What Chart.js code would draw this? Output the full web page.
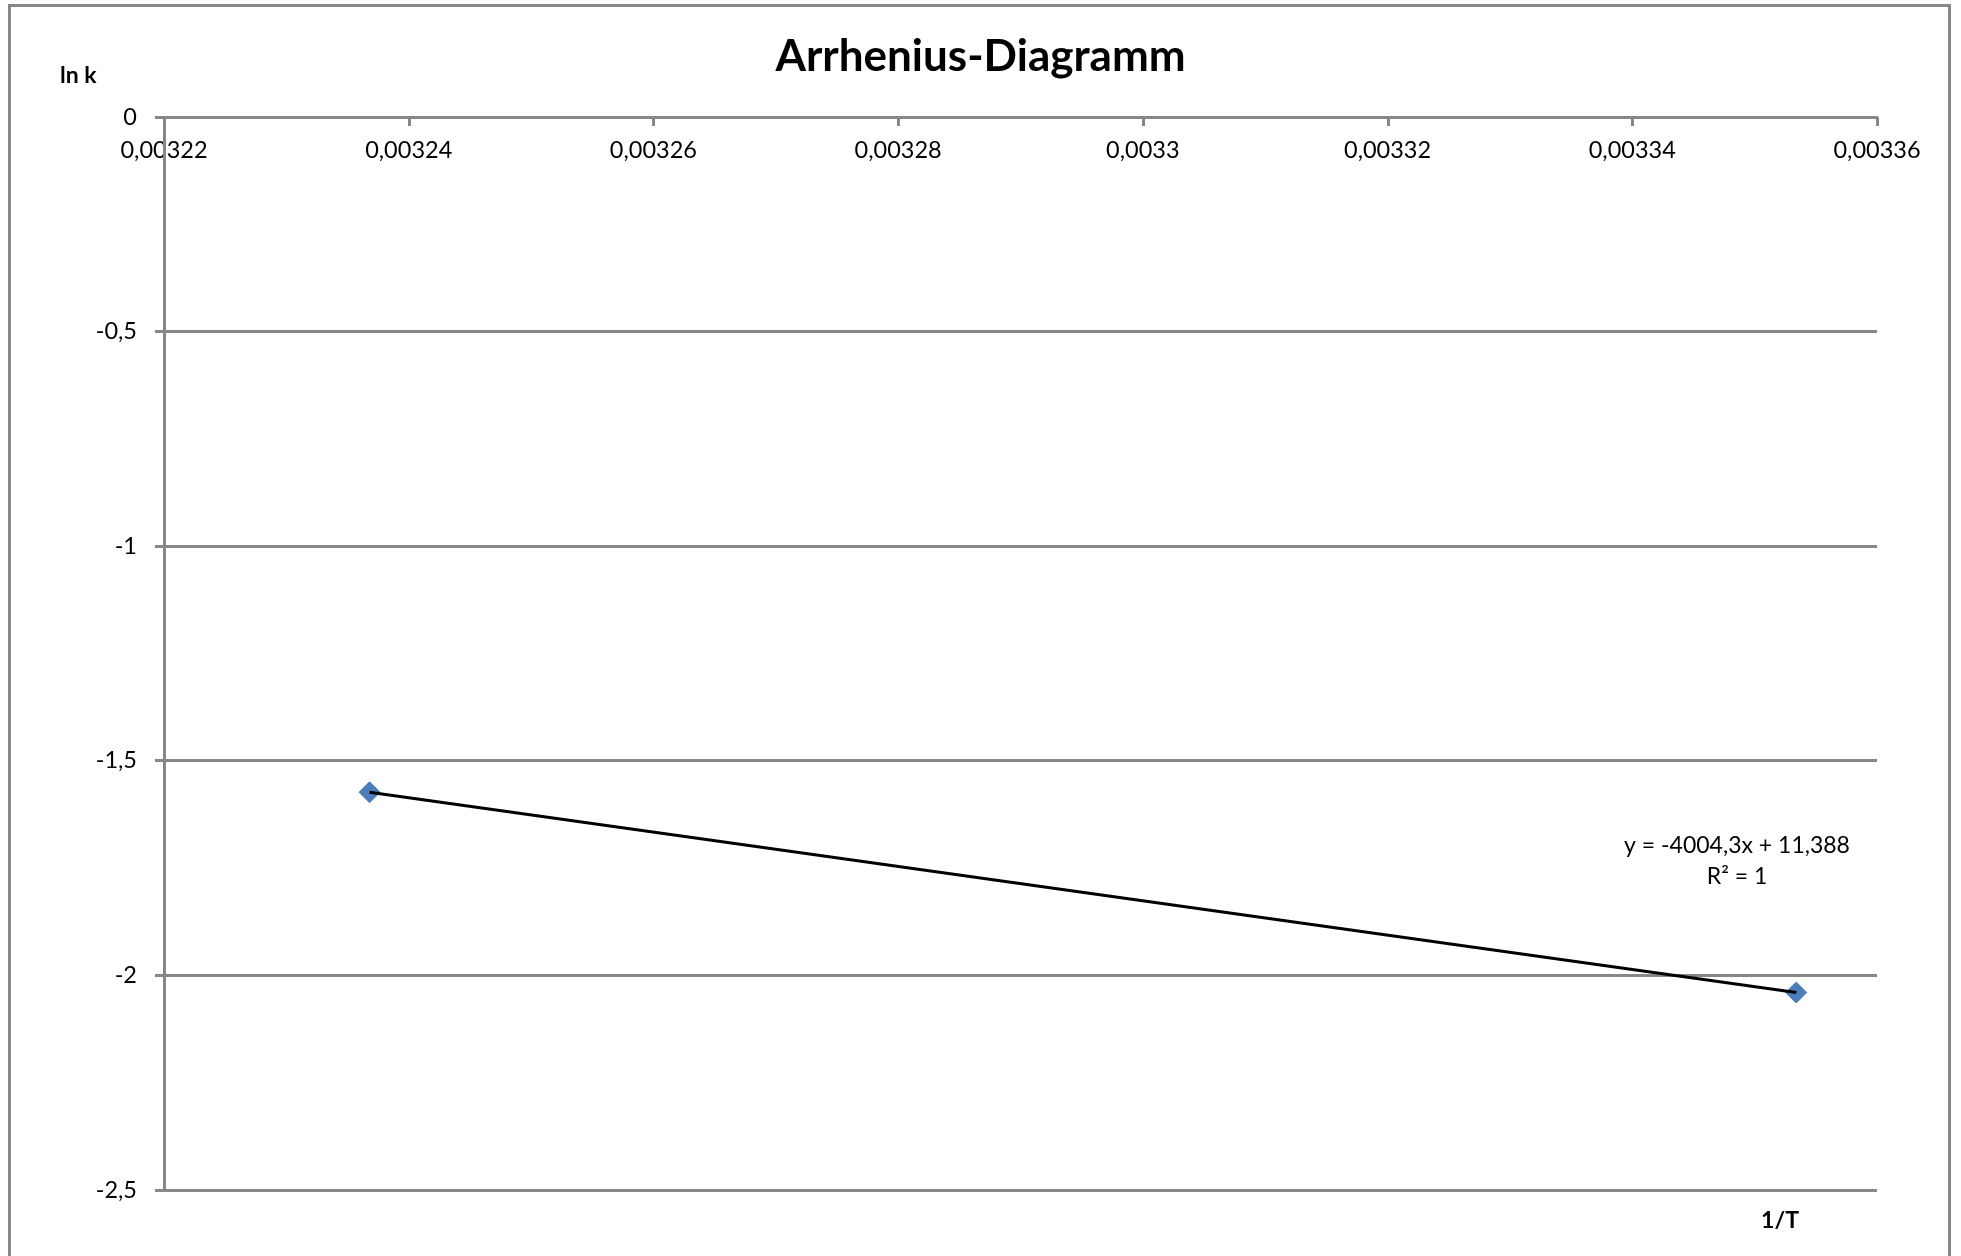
<!DOCTYPE html>
<html>
<head>
<meta charset="utf-8">
<title>Arrhenius-Diagramm</title>
<script src="https://cdn.jsdelivr.net/npm/chart.js@4/dist/chart.umd.min.js"></script>
<style>
  html, body { margin: 0; padding: 0; background: #ffffff; }
  #wrap { width: 1961px; height: 1256px; position: relative; }
</style>
</head>
<body>
<div id="wrap"><canvas id="arrhenius" width="1961" height="1256"></canvas></div>
<script>
// Measured points: reciprocal temperature (1/K) and natural log of the rate constant
const inverseTemperature = [0.0032368, 0.0033534];
const lnK = [-1.5733, -2.0400];

// Linear trendline as printed next to it
const trendSlope = -4004.3;
const trendIntercept = 11.388;
const equationLines = ['y = -4004,3x + 11,388', 'R² = 1'];

// Axis ticks and their German-formatted labels
const xTickValues = [0.00322, 0.00324, 0.00326, 0.00328, 0.0033, 0.00332, 0.00334, 0.00336];
const xTickLabels = ['0,00322', '0,00324', '0,00326', '0,00328', '0,0033', '0,00332', '0,00334', '0,00336'];
const yTickValues = [0, -0.5, -1, -1.5, -2, -2.5];
const yTickLabels = ['0', '-0,5', '-1', '-1,5', '-2', '-2,5'];

const chartTitle = 'Arrhenius-Diagramm';
const yAxisTitle = 'ln k';
const xAxisTitle = '1/T';

const FONT = 'Lato, "Open Sans", "Noto Sans", sans-serif';
const GRID_GRAY = '#878787';

// Trendline spans the range of the measured x values
const trendX = [Math.min(...inverseTemperature), Math.max(...inverseTemperature)];
const trendPoints = trendX.map(x => ({ x: x, y: trendSlope * x + trendIntercept }));
const measuredPoints = inverseTemperature.map((x, i) => ({ x: x, y: lnK[i] }));

// Frame, axis tick marks below the top axis, and free text
const decorations = {
  id: 'decorations',
  beforeDraw(chart) {
    const ctx = chart.ctx;
    ctx.save();
    ctx.fillStyle = '#ffffff';
    ctx.fillRect(0, 0, chart.width, chart.height);
    ctx.strokeStyle = GRID_GRAY;
    ctx.lineWidth = 3;
    ctx.strokeRect(9.5, 5.5, 1940, 1300);
    ctx.restore();
  },
  beforeDatasetsDraw(chart) {
    const ctx = chart.ctx;
    const xs = chart.scales.x, ys = chart.scales.y;
    const axisY = ys.getPixelForValue(0);
    ctx.save();
    ctx.strokeStyle = GRID_GRAY;
    ctx.lineWidth = 3;
    xTickValues.forEach(v => {
      const px = Math.round(xs.getPixelForValue(v)) + 0.5;
      ctx.beginPath();
      ctx.moveTo(px, axisY);
      ctx.lineTo(px, axisY + 9);
      ctx.stroke();
    });
    ctx.restore();
  },
  afterDraw(chart) {
    const ctx = chart.ctx;
    const area = chart.chartArea;
    ctx.save();
    ctx.fillStyle = '#000000';
    ctx.textBaseline = 'middle';

    ctx.textAlign = 'center';
    ctx.font = 'bold 44px ' + FONT;
    ctx.fillText(chartTitle, chart.width / 2, 57);

    ctx.font = 'bold 23px ' + FONT;
    ctx.textAlign = 'left';
    ctx.fillText(yAxisTitle, 60, 76);
    ctx.textAlign = 'center';
    ctx.fillText(xAxisTitle, area.right - 97, area.bottom + 31);

    ctx.font = '23px ' + FONT;
    ctx.fillText(equationLines[0], area.right - 140, 846);
    ctx.fillText(equationLines[1], area.right - 140, 877);
    ctx.restore();
  }
};

new Chart(document.getElementById('arrhenius'), {
  type: 'scatter',
  data: {
    datasets: [
      {
        label: 'Linear (ln k)',
        data: trendPoints,
        showLine: true,
        borderColor: '#000000',
        borderWidth: 3,
        pointRadius: 0,
        fill: false,
        order: 0
      },
      {
        label: 'ln k',
        data: measuredPoints,
        pointStyle: 'rectRot',
        pointRadius: 10.5,
        backgroundColor: '#4A7EBB',
        borderColor: '#4A7EBB',
        borderWidth: 1,
        showLine: false,
        order: 1
      }
    ]
  },
  options: {
    responsive: false,
    animation: false,
    layout: { padding: { left: 34, top: 117, right: 84, bottom: 66 } },
    plugins: {
      legend: { display: false },
      title: { display: false },
      tooltip: { enabled: false }
    },
    scales: {
      x: {
        type: 'linear',
        position: { y: 0 },
        min: xTickValues[0],
        max: xTickValues[xTickValues.length - 1],
        afterBuildTicks(scale) { scale.ticks = xTickValues.map(v => ({ value: v })); },
        ticks: {
          callback: (v, i) => xTickLabels[i],
          font: { family: FONT, size: 23.5 },
          color: '#000000',
          padding: 19,
          maxRotation: 0,
          autoSkip: false
        },
        grid: { display: false, drawTicks: false },
        border: { display: true, color: GRID_GRAY, width: 3 }
      },
      y: {
        type: 'linear',
        position: 'left',
        min: yTickValues[yTickValues.length - 1],
        max: yTickValues[0],
        afterBuildTicks(scale) { scale.ticks = yTickValues.slice().reverse().map(v => ({ value: v })); },
        afterFit(scale) { scale.width = 130; },
        ticks: {
          callback: (v, i) => yTickLabels[yTickLabels.length - 1 - i],
          font: { family: FONT, size: 23.5 },
          color: '#000000',
          padding: 18
        },
        grid: { color: GRID_GRAY, lineWidth: 3, tickLength: 9, drawTicks: true },
        border: { color: GRID_GRAY, width: 3 }
      }
    }
  },
  plugins: [decorations]
});
</script>
</body>
</html>
